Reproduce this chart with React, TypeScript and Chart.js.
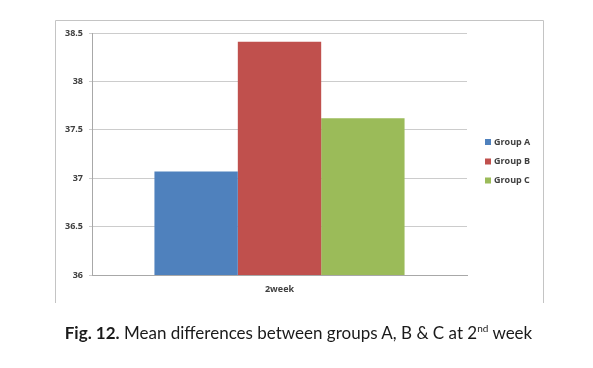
import React, { useEffect, useRef } from "react";
import { Chart, registerables } from "chart.js";

Chart.register(...registerables);

const categories = ["2week"];
const seriesNames = ["Group A", "Group B", "Group C"];
const groupA = [37.07];
const groupB = [38.41];
const groupC = [37.62];
const seriesColors = ["#4f81bd", "#c0504d", "#9bbb59"];
const yTicks = [36, 36.5, 37, 37.5, 38, 38.5];

const tickFont = { family: "'Open Sans', 'Liberation Sans', sans-serif", size: 9, weight: "bold" as const };

const framePlugin = {
  id: "frame",
  beforeDraw(chart: any) {
    const ctx = chart.ctx;
    ctx.save();
    ctx.fillStyle = "#ffffff";
    ctx.fillRect(0, 0, chart.width, chart.height);
    ctx.strokeStyle = "#c4c4c4";
    ctx.lineWidth = 1;
    ctx.beginPath();
    ctx.moveTo(55.5, 303);
    ctx.lineTo(55.5, 20.5);
    ctx.lineTo(543.5, 20.5);
    ctx.lineTo(543.5, 303);
    ctx.stroke();
    ctx.restore();
  },
  afterDraw(chart: any) {
    const ctx = chart.ctx;
    ctx.save();
    const ys = [142, 161.5, 180.5];
    chart.data.datasets.forEach((ds: any, i: number) => {
      ctx.fillStyle = ds.backgroundColor;
      ctx.fillRect(485, ys[i] - 3, 6, 6);
      ctx.fillStyle = "#404040";
      ctx.font = "bold 9px 'Open Sans', 'Liberation Sans', sans-serif";
      ctx.textBaseline = "middle";
      ctx.textAlign = "left";
      ctx.fillText(ds.label, 494, ys[i]);
    });
    ctx.restore();
  },
};

export default function App() {
  const ref = useRef<HTMLCanvasElement>(null);
  useEffect(() => {
    if (!ref.current) return;
    const values = [groupA, groupB, groupC];
    const chart = new Chart(ref.current, {
      type: "bar",
      data: {
        labels: categories,
        datasets: seriesNames.map((name, i) => ({
          label: name,
          data: values[i],
          backgroundColor: seriesColors[i],
          borderWidth: 0,
          barPercentage: 1,
          categoryPercentage: 0.667,
        })),
      },
      options: {
        responsive: false,
        animation: false,
        layout: { padding: { left: 55, right: 126, top: 33, bottom: 66 } },
        plugins: { legend: { display: false }, tooltip: { enabled: false } },
        scales: {
          x: {
            grid: { display: false, drawTicks: false },
            border: { display: true, color: "#a8a8a8" },
            ticks: { font: tickFont, color: "#404040", padding: 9 },
            afterFit(scale: any) { scale.height = 27; },
          },
          y: {
            min: yTicks[0],
            max: yTicks[yTicks.length - 1],
            afterBuildTicks(scale: any) { scale.ticks = yTicks.map((v) => ({ value: v })); },
            grid: { color: "#cccccc", tickLength: 3 },
            border: { display: true, color: "#a8a8a8" },
            ticks: { font: tickFont, color: "#404040", padding: 6, callback: (v: any) => String(v) },
            afterFit(scale: any) { scale.width = 37; },
          },
        },
      },
      plugins: [framePlugin],
    });
    return () => chart.destroy();
  }, []);
  return (
    <div style={{ position: "absolute", left: 0, top: 0, width: 593, height: 368, background: "#fff" }}>
      <canvas ref={ref} width={593} height={368} style={{ display: "block" }} />
      <div
        style={{
          position: "absolute",
          left: 0,
          top: 323,
          width: 597,
          textAlign: "center",
          fontFamily: "Lato, 'Liberation Sans', sans-serif",
          fontSize: 17,
          color: "#1a1a1a",
          lineHeight: "20px",
          whiteSpace: "nowrap",
        }}
      >
        <b>Fig. 12.</b> Mean differences between groups A, B &amp; C at 2<sup style={{ fontSize: 10, lineHeight: 0 }}>nd</sup> week
      </div>
    </div>
  );
}
